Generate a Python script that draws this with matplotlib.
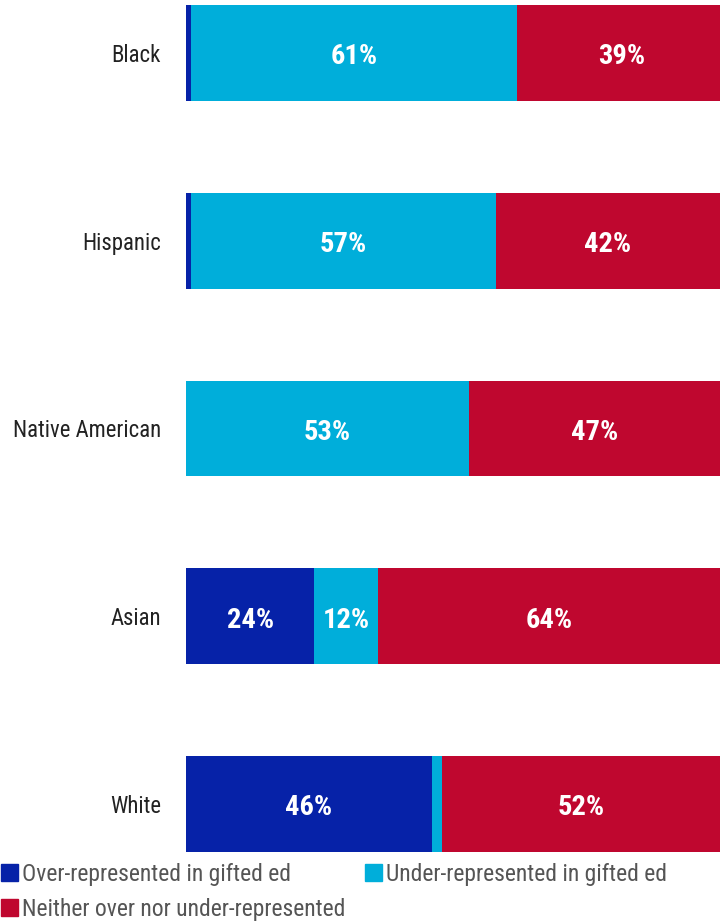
import numpy as np
import matplotlib.pyplot as plt
import matplotlib.patches as mpatches

plt.rcParams['font.family'] = ['Roboto Condensed', 'Roboto', 'DejaVu Sans']

groups = ["Black", "Hispanic", "Native American", "Asian", "White"]
over = [1, 1, 0, 24, 46]
under = [61, 57, 53, 12, 2]
neither = [39, 42, 47, 64, 52]

series_names = ["Over-represented in gifted ed",
                "Under-represented in gifted ed",
                "Neither over nor under-represented"]
colors = ["#0622A8", "#00AEDA", "#BF072F"]

fig = plt.figure(figsize=(7.24, 9.22), dpi=100)
ax = fig.add_axes([0.257, 0.0759, 0.7375, 0.9187])

y = np.arange(len(groups))
left = np.zeros(len(groups))
for vals, col in zip([over, under, neither], colors):
    vals = np.array(vals, dtype=float)
    ax.barh(y, vals, left=left, height=0.51, color=col, linewidth=0)
    for yi, l, v in zip(y, left, vals):
        if v >= 5:
            ax.text(l + v / 2, yi + 0.02, f"{int(v)}%", ha="center", va="center",
                    color="white", fontsize=20.5, fontweight="bold")
    left += vals

ax.set_xlim(0, 100)
ax.set_ylim(4.255, -0.255)
ax.set_yticks(y)
ax.set_yticklabels(groups, fontsize=16.4, color="#222222")
ax.tick_params(axis="y", length=0, pad=18)
ax.set_xticks([])
for s in ax.spines.values():
    s.set_visible(False)

handles = [mpatches.Patch(color=colors[0], label=series_names[0]),
           mpatches.Patch(color=colors[2], label=series_names[2]),
           mpatches.Patch(color=colors[1], label=series_names[1])]
leg = fig.legend(handles=handles, ncol=2, loc="upper left",
                 bbox_to_anchor=(-0.028, 0.087), frameon=False,
                 fontsize=17, handlelength=0.72, handleheight=0.72,
                 handletextpad=0.15, columnspacing=0.85, labelspacing=0.5)
for t in leg.get_texts():
    t.set_color("#555555")

fig.savefig("out.png", dpi=100)
